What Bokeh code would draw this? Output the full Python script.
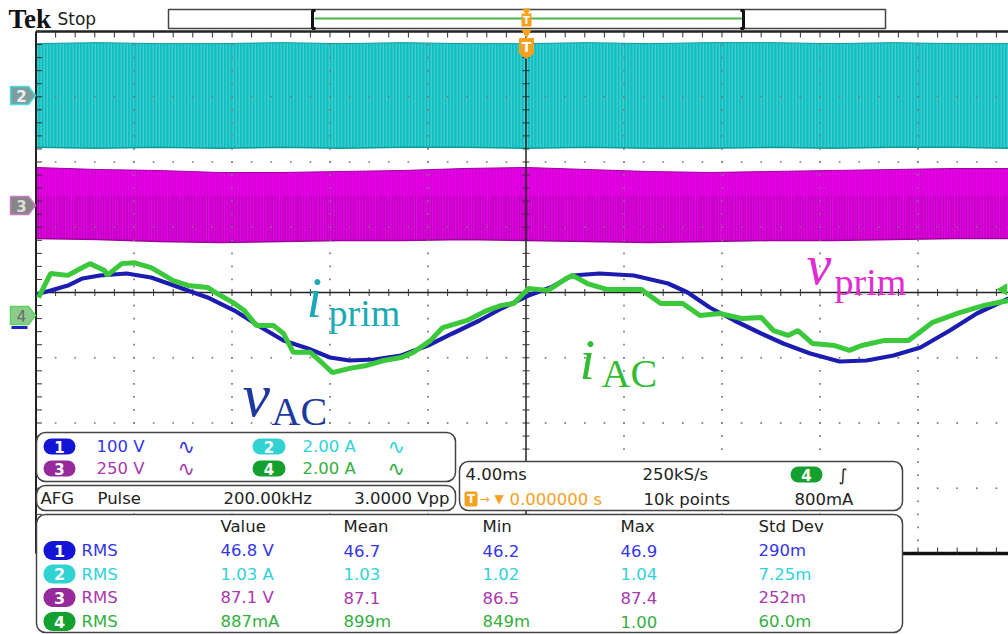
import numpy as np
from bokeh.plotting import figure
from bokeh.models import Range1d, Label, BoxAnnotation
from bokeh.embed import file_html
from bokeh.resources import INLINE

# ---------------- data ----------------
# Ch1 v_AC, 100 V/div, time in ms (4 ms/div)
t_vac = [-20.0, -19.4, -18.7, -18.1, -17.4, -16.3, -15.3, -14.6, -13.8, -13.0,
         -11.9, -10.8, -9.9, -8.9, -8.0, -7.2, -6.2, -5.1, -4.0, -3.0,
         -1.9, -1.0, 0.1, 1.0, 1.9, 3.0, 4.4, 5.8, 6.6, 7.5,
         8.5, 9.6, 10.5, 11.6, 12.8, 13.9, 15.0, 16.1, 17.3, 18.4, 19.7]
v_ac = [35.2, 41.4, 49.0, 59.8, 64.4, 67.4, 61.3, 52.1, 41.4, 30.7,
        10.7, -15.3, -35.2, -47.5, -61.3, -65.9, -64.4, -58.2, -42.9, -24.5,
        -4.6, 13.8, 33.7, 46.0, 64.4, 67.4, 64.4, 52.1, 38.3, 15.3,
        -4.6, -24.5, -39.8, -55.2, -67.4, -65.9, -58.2, -46.0, -19.9, 6.1, 29.1]

# Ch4 i_AC, 2 A/div
t_iac = [-19.9, -19.4, -18.7, -18.1, -17.8, -17.2, -17.1, -16.5, -16.0, -15.3,
         -14.9, -14.4, -13.8, -13.0, -12.6, -11.9, -11.5, -11.0, -10.3, -9.9,
         -9.5, -8.8, -8.3, -7.9, -7.2, -6.5, -5.8, -5.1, -4.6, -3.9,
         -3.4, -2.4, -1.6, -1.0, -0.5, 0.1, 0.9, 1.7, 1.9, 2.5,
         3.3, 4.7, 5.5, 6.4, 7.1, 7.9, 8.8, 9.6, 10.1, 10.7,
         11.1, 11.7, 12.6, 13.2, 13.7, 14.6, 15.6, 16.0, 16.6, 17.7, 18.7, 19.7]
i_ac = [0.55, 1.29, 1.23, 1.47, 1.59, 1.38, 1.23, 1.59, 1.62, 1.47,
        1.29, 1.07, 0.92, 0.86, 0.67, 0.37, 0.15, -0.31, -0.31, -0.55,
        -1.13, -1.13, -1.47, -1.75, -1.62, -1.53, -1.38, -1.29, -1.13, -0.77,
        -0.37, -0.15, 0.15, 0.31, 0.37, 0.83, 0.77, 1.16, 1.23, 0.98,
        0.80, 0.80, 0.37, 0.37, 0.00, 0.06, -0.09, -0.06, -0.46, -0.61,
        -0.46, -0.86, -0.92, -1.07, -0.92, -0.77, -0.77, -0.55, -0.21, 0.09, 0.31, 0.46]

# Envelopes of the switching waveforms
t_env = [-20, -17.5, -15, -12.5, -10, -7.5, -5, -2.5, 0, 2.5, 5, 7.5, 10, 12.5, 15, 17.5, 19.7]
iprim_hi = [1.59, 1.62, 1.59, 1.59, 1.62, 1.59, 1.62, 1.59, 1.59, 1.62, 1.59, 1.62, 1.62, 1.59, 1.62, 1.59, 1.59]
iprim_lo = [-1.59, -1.62, -1.59, -1.62, -1.59, -1.62, -1.59, -1.59, -1.62, -1.59, -1.62, -1.62, -1.59, -1.62, -1.59, -1.59, -1.62]
vprim_hi = [145.6, 137.9, 134.1, 126.4, 126.4, 130.3, 134.1, 141.8, 145.6, 137.9, 130.3, 126.4, 130.3, 134.1, 137.9, 141.8, 141.8]
vprim_lo = [-126.4, -130.3, -137.9, -141.8, -137.9, -134.1, -134.1, -130.3, -134.1, -137.9, -141.8, -137.9, -134.1, -134.1, -130.3, -126.4, -126.4]

# Channel settings / readouts
ch_scale = [100, 2, 250, 2]          # units per division
ch_scale_txt = ["100 V", "2.00 A", "250 V", "2.00 A"]
meas_header = ["Value", "Mean", "Min", "Max", "Std Dev"]
meas_value = ["46.8 V", "1.03 A", "87.1 V", "887mA"]
meas_mean = ["46.7", "1.03", "87.1", "899m"]
meas_min = ["46.2", "1.02", "86.5", "849m"]
meas_max = ["46.9", "1.04", "87.4", "1.00"]
meas_std = ["290m", "7.25m", "252m", "60.0m"]

# ---------------- screen geometry ----------------
CX, CY = 525.5, 292.0
PX_MS, PX_DIV = 24.5, 65.25


def X(px):
    return (px - CX) / PX_MS


def Y(py):
    return (CY - py) / PX_DIV


OFF1, OFF2, OFF3, OFF4 = Y(317), Y(95), Y(205), Y(315)

C_TXT = ["#3535E5", "#2FD2D8", "#AA38B0", "#33AF40"]
C_BADGE = ["#1414D6", "#30D2D2", "#962A9A", "#14A02E"]
ORANGE = "#F5A01E"
FONT = "DejaVu Sans"
SERIF = "Liberation Serif"

p = figure(width=1008, height=634, x_range=Range1d(X(0), X(1008)),
           y_range=Range1d(Y(634), Y(0)), output_backend="svg",
           toolbar_location=None, min_border=0,
           x_axis_location=None, y_axis_location=None)
p.grid.grid_line_color = None
p.outline_line_color = None
p.background_fill_color = "white"
p.border_fill_color = "white"

# ---------------- switching waveforms (bands) ----------------
te = np.array(t_env)
c2_hi = OFF2 + np.array(iprim_hi) / ch_scale[1]
c2_lo = OFF2 + np.array(iprim_lo) / ch_scale[1]
c3_hi = OFF3 + np.array(vprim_hi) / ch_scale[2]
c3_lo = OFF3 + np.array(vprim_lo) / ch_scale[2]
p.varea(te, c2_lo, c2_hi, fill_color="#10BEC0", hatch_pattern="vertical_line",
        hatch_color="#6ADEDE", hatch_alpha=0.7, hatch_scale=3.2, hatch_weight=1)
p.line(te, c2_lo, color="#0C9C9E", line_width=1.5)
p.line(te, c2_hi, color="#0C9C9E", line_width=1)
p.varea(te, c3_lo, c3_hi, fill_color="#E600E6", hatch_pattern="vertical_line",
        hatch_color="#B000B0", hatch_alpha=0.45, hatch_scale=3.2, hatch_weight=1)
p.varea(te, c3_lo, np.full(len(te), OFF3 + 0.15), fill_alpha=0,
        hatch_pattern="vertical_line", hatch_color="#9A009A", hatch_alpha=0.6,
        hatch_scale=2.6, hatch_weight=1.2)
p.line(te, c3_lo, color="#A000A0", line_width=1.5)
p.line(te, c3_hi, color="#A000A0", line_width=1)

# ---------------- graticule ----------------
minor_t = np.arange(-20, 20.001, 0.8)
minor_d = np.arange(-4, 4.001, 0.2)
gx, gy = [], []
for d in (-3, -2, -1, 1, 2, 3):
    gx += list(minor_t)
    gy += [d] * len(minor_t)
for tt in (-16, -12, -8, -4, 4, 8, 12, 16):
    gx += [tt] * len(minor_d)
    gy += list(minor_d)
p.scatter(gx, gy, marker="square", size=1.7, color="#7a7a7a", line_color=None)
p.line([-20, 20], [0, 0], color="#222222", line_width=1.5)
p.line([0, 0], [-4, 4], color="#222222", line_width=1.5)
p.scatter(minor_t, np.zeros(len(minor_t)), marker="dash", angle=np.pi / 2,
          size=7, color="#333333")
p.scatter(np.zeros(len(minor_d)), minor_d, marker="dash", size=7, color="#333333")
# borders
p.line([-20, 20], [4, 4], color="#222222", line_width=2.5)
p.scatter(minor_t, np.full(len(minor_t), 4 - 3 / PX_DIV), marker="dash",
          angle=np.pi / 2, size=6, color="#333333")
p.line([-20, -20], [-4, 4], color="#222222", line_width=2)
p.scatter(np.full(len(minor_d), -20 + 3 / PX_MS), minor_d, marker="dash",
          size=6, color="#333333")
p.line([-20, 20], [-4, -4], color="#111111", line_width=3.5)
p.scatter(minor_t, np.full(len(minor_t), -4 + 3 / PX_DIV), marker="dash",
          angle=np.pi / 2, size=6, color="#333333")

# ---------------- line waveforms ----------------
p.line(t_vac, OFF1 + np.array(v_ac) / ch_scale[0], color="#1C1CB0", line_width=4.2)
p.line(t_iac, OFF4 + np.array(i_ac) / ch_scale[3], color="#3BC83B", line_width=5)

# trigger level marker (ch4, 800 mA)
p.scatter([X(1003)], [OFF4 + 0.8 / ch_scale[3]], marker="triangle", angle=np.pi / 2,
          size=11, color="#3BC83B")

# ---------------- record view bar ----------------
p.quad(left=X(168), right=X(885), top=Y(9), bottom=Y(28), fill_color="white",
       line_color="#444444", line_width=1.5)
p.line([X(314), X(742)], [Y(18), Y(18)], color="#4DB34D", line_width=2)
p.multi_line([[X(315), X(312), X(312), X(315)], [X(740), X(743), X(743), X(740)]],
             [[Y(10), Y(10), Y(28), Y(28)], [Y(10), Y(10), Y(28), Y(28)]],
             color="#111111", line_width=3)
p.quad(left=X(521), right=X(531), top=Y(13), bottom=Y(26), fill_color=ORANGE,
       line_color=None)
p.scatter([X(526)], [Y(10.5)], marker="inverted_triangle", size=7, color=ORANGE)
p.scatter([X(526)], [Y(32)], marker="inverted_triangle", size=9, color=ORANGE)
p.patch([X(519), X(533), X(533), X(526), X(519)],
        [Y(38), Y(38), Y(53), Y(58), Y(53)], fill_color=ORANGE, line_color=ORANGE)

# channel ground markers on the left
def marker(yc, fill, edge):
    p.patch([X(10), X(28), X(35), X(28), X(10)],
            [Y(yc - 9), Y(yc - 9), Y(yc), Y(yc + 9), Y(yc + 9)],
            fill_color=fill, line_color=edge, line_width=1.5)


marker(95, "#7C9E9E", "#45DDDD")
marker(205, "#868686", "#CC77CC")
p.line([X(11), X(27)], [Y(327), Y(327)], color="#2020C8", line_width=3)
marker(315, "#8DCB8D", "#5BD35B")

# ---------------- readout boxes ----------------
def box(l, r, t, b):
    p.add_layout(BoxAnnotation(left=X(l), right=X(r), top=Y(t), bottom=Y(b),
                               fill_color="white", fill_alpha=1, line_color="#444444",
                               line_alpha=1, line_width=1.5, border_radius=9))


def badge(l, r, t, b, color):
    p.add_layout(BoxAnnotation(left=X(l), right=X(r), top=Y(t), bottom=Y(b),
                               fill_color=color, fill_alpha=1, line_color=None,
                               border_radius=9))


def lab(px, py, text, color="#222222", size="16.5px", font=FONT, align="left",
        style="normal", baseline="middle"):
    p.add_layout(Label(x=X(px), y=Y(py), text=text, text_color=color, text_font=font,
                       text_font_size=size, text_align=align, text_baseline=baseline,
                       text_font_style=style))


def math(px, py_base, text, color, size, style="normal"):
    # place by alphabetic baseline (empirical correction for Bokeh's text box)
    lab(px, py_base - 0.37 * size, text, color, f"{size}px", font=SERIF,
        style=style, baseline="alphabetic")


box(36, 455, 432, 481)
box(36, 455, 485, 510)
box(459, 902, 461, 510)
box(36, 902, 514, 632)

# channel box
rows = [(446, 0, 1), (468, 2, 3)]
for (yc, a, b) in rows:
    badge(43, 75, yc - 8, yc + 8, C_BADGE[a])
    lab(59, yc, str(a + 1), "white", "15px", align="center", style="bold")
    lab(96, yc, ch_scale_txt[a], C_TXT[a])
    lab(177, yc, "∿", C_TXT[a], "21px")
    badge(252, 285, yc - 8, yc + 8, C_BADGE[b])
    lab(268.5, yc, str(b + 1), "white", "15px", align="center", style="bold")
    lab(302, yc, ch_scale_txt[b], C_TXT[b])
    lab(387, yc, "∿", C_TXT[b], "21px")

# AFG box
lab(40, 497.5, "AFG")
lab(97, 497.5, "Pulse")
lab(223, 497.5, "200.00kHz")
lab(449, 497.5, "3.0000 Vpp", align="right")

# timebase / trigger box
lab(465, 474, "4.00ms")
lab(642, 474, "250kS/s")
badge(790, 822, 466, 482, C_BADGE[3])
lab(806, 474, "4", "white", "15px", align="center", style="bold")
lab(838, 474, "∫", "#222222", "17px")
p.add_layout(BoxAnnotation(left=X(464), right=X(477), top=Y(491), bottom=Y(506),
                           fill_color=ORANGE, fill_alpha=1, line_color=None,
                           border_radius=2))
lab(470.5, 498.5, "T", "white", "12px", align="center", style="bold")
lab(479, 498.5, "→", ORANGE, "12px")
lab(494, 498.5, "▼", ORANGE, "12px")
lab(509, 498.5, "0.000000 s", ORANGE)
lab(643, 498.5, "10k points")
lab(794, 498.5, "800mA")

# measurement box
col_x = [220, 343, 482, 620, 758]
for cx, h in zip(col_x, meas_header):
    lab(cx, 526, h)
row_y = [550, 573.5, 597, 621]
for i, yc in enumerate(row_y):
    badge(43, 75, yc - 9.5, yc + 9.5, C_BADGE[i])
    lab(59, yc, str(i + 1), "white", "16px", align="center", style="bold")
    lab(81, yc, "RMS", C_TXT[i])
    for cx, col in zip(col_x, [meas_value, meas_mean, meas_min, meas_max, meas_std]):
        lab(cx, yc, col[i], C_TXT[i])

# marker digits
lab(21, 95, "2", "#EEEEEE", "15px", align="center", style="bold")
lab(21, 205, "3", "#DDDDDD", "15px", align="center", style="bold")
lab(21, 315, "4", "#6A6A6A", "15px", align="center")
lab(526, 20, "T", "white", "10px", align="center", style="bold")
lab(526, 46.5, "T", "white", "14px", align="center", style="bold")

# header
lab(8, 18, "Tek", "#111111", "27px", font=SERIF, style="bold")
lab(57, 18, "Stop", "#222222", "17px")

# waveform names
math(306, 318, "i", "#1BAAB5", 56, "italic")
math(328, 327, "prim", "#1BAAB5", 38)
math(242, 417, "v", "#1C3A9E", 62, "italic")
math(271, 426, "AC", "#1C3A9E", 40)
math(579, 380, "i", "#33BC33", 56, "italic")
math(601, 388, "AC", "#33BC33", 40)
math(806, 285, "v", "#E22BD1", 56, "italic")
math(834, 296, "prim", "#E22BD1", 38)

open("out.html", "w").write(file_html(p, INLINE))
